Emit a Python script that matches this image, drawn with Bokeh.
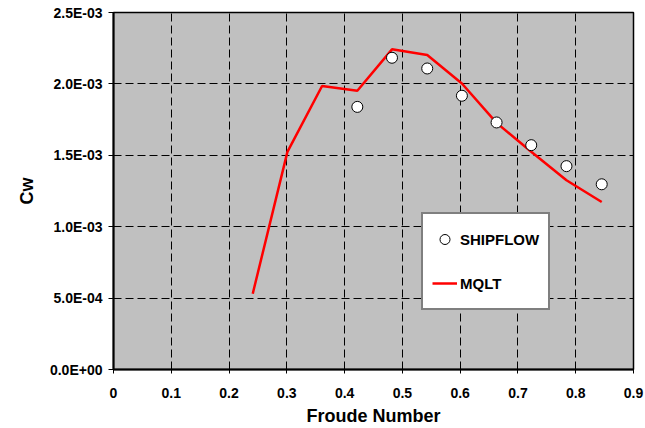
from bokeh.plotting import figure
from bokeh.models import FixedTicker, Range1d, Legend, LegendItem
from bokeh.embed import file_html
from bokeh.resources import INLINE

# ---- data ----
fr_mqlt = [0.241, 0.301, 0.361, 0.422, 0.482, 0.543, 0.603, 0.663, 0.723, 0.784, 0.845]
cw_mqlt = [0.531e-3, 1.524e-3, 1.985e-3, 1.952e-3, 2.242e-3, 2.202e-3, 2.003e-3,
           1.727e-3, 1.525e-3, 1.325e-3, 1.173e-3]

fr_ship = [0.422, 0.482, 0.543, 0.603, 0.663, 0.723, 0.784, 0.845]
cw_ship = [1.839e-3, 2.183e-3, 2.108e-3, 1.917e-3, 1.730e-3, 1.571e-3, 1.424e-3, 1.297e-3]

x_ticks = [0, 0.1, 0.2, 0.3, 0.4, 0.5, 0.6, 0.7, 0.8, 0.9]
x_tick_labels = ["0", "0.1", "0.2", "0.3", "0.4", "0.5", "0.6", "0.7", "0.8", "0.9"]
y_ticks = [0.0, 0.0005, 0.001, 0.0015, 0.002, 0.0025]
y_tick_labels = ["0.0E+00", "5.0E-04", "1.0E-03", "1.5E-03", "2.0E-03", "2.5E-03"]

FONT = "Liberation Sans"

p = figure(frame_width=520, frame_height=357,
           min_border_left=113, min_border_right=12, min_border_top=12, min_border_bottom=59,
           x_range=Range1d(0, 0.9), y_range=Range1d(0, 0.0025),
           output_backend="svg", toolbar_location=None)

p.background_fill_color = "#C0C0C0"
p.border_fill_color = "white"
p.outline_line_color = "black"
p.outline_line_width = 1.5

# axes
p.xaxis.ticker = FixedTicker(ticks=x_ticks)
p.yaxis.ticker = FixedTicker(ticks=y_ticks)
p.xaxis.major_label_overrides = dict(zip(x_ticks, x_tick_labels))
p.yaxis.major_label_overrides = dict(zip(y_ticks, y_tick_labels))
for ax in (p.xaxis, p.yaxis):
    ax.axis_line_color = "black"
    ax.axis_line_width = 2
    ax.major_tick_line_color = "black"
    ax.major_tick_line_width = 1
    ax.major_tick_in = 0
    ax.minor_tick_line_color = None
    ax.major_label_text_font = FONT
    ax.major_label_text_font_style = "bold"
    ax.major_label_text_font_size = "14px"
    ax.major_label_text_color = "black"
    ax.axis_label_text_font = FONT
    ax.axis_label_text_font_style = "bold"
    ax.axis_label_text_font_size = "18px"
    ax.axis_label_text_color = "black"
p.xaxis.major_tick_out = 4
p.yaxis.major_tick_out = 5
p.xaxis.major_label_standoff = 14
p.yaxis.major_label_standoff = 6
p.xaxis.axis_label = "Froude Number"
p.yaxis.axis_label = "Cw"
p.xaxis.axis_label_standoff = 5
p.yaxis.axis_label_standoff = 10

# grid
for g in (p.xgrid, p.ygrid):
    g.grid_line_color = "black"
    g.grid_line_width = 1
    g.grid_line_dash = "8 4"

# data
line_r = p.line(fr_mqlt, cw_mqlt, line_color="#FF0000", line_width=2.5)
ship_r = p.scatter(fr_ship, cw_ship, marker="circle", size=11,
                   fill_color="white", line_color="black", line_width=1)

legend = Legend(items=[LegendItem(label="SHIPFLOW", renderers=[ship_r]),
                       LegendItem(label="MQLT", renderers=[line_r])],
                location=(308, 59))
legend.background_fill_color = "white"
legend.background_fill_alpha = 1
legend.border_line_color = "black"
legend.border_line_width = 2
legend.padding = 9
legend.margin = 0
legend.spacing = 12
legend.glyph_width = 25
legend.glyph_height = 32
legend.label_height = 32
legend.label_standoff = 3
legend.label_text_font = FONT
legend.label_text_font_style = "bold"
legend.label_text_font_size = "15px"
legend.label_text_color = "black"
p.add_layout(legend, "center")

open("out.html", "w").write(file_html(p, INLINE))
